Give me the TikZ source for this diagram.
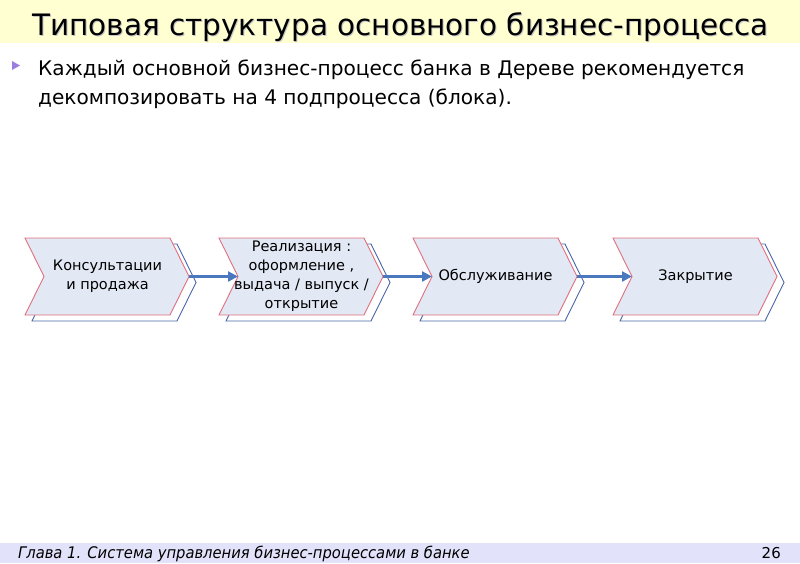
\documentclass[tikz,border=0pt]{standalone}
\usepackage{fontspec}
\setmainfont{DejaVu Sans}
\newfontfamily\footfont[FakeStretch=0.92]{DejaVu Sans}
\usetikzlibrary{arrows.meta}

\definecolor{titlebg}{HTML}{FFFFD2}
\definecolor{footbg}{HTML}{E2E2FA}
\definecolor{bulletc}{HTML}{9A7FE0}
\definecolor{blockfill}{HTML}{E2E8F4}
\definecolor{blockred}{HTML}{E0707E}
\definecolor{blockblue}{HTML}{4A66A8}
\definecolor{flowc}{HTML}{4A78BE}

\tikzset{
    blockfront/.style={draw=blockred, fill=blockfill, line width=0.9pt},
    blockback/.style={draw=blockblue, fill=white, line width=0.9pt},
    blocktext/.style={align=center, font=\fontsize{14.5}{19}\selectfont, inner sep=0pt},
    flow/.style={draw=flowc, line width=2.3pt, -{Triangle[length=10pt, width=10pt]}},
}

\begin{document}
\begin{tikzpicture}[x=1pt, y=-1pt]
    \useasboundingbox (0,0) rectangle (800,563);

    % Bands
    \fill[titlebg] (0,0) rectangle (800,43);
    \fill[footbg] (0,543) rectangle (800,563);

    % Title
    \node[anchor=base, text=black!22, font=\fontsize{29.5}{32}\selectfont] (title-shadow) at (401.5,36.5) {Типовая структура основного бизнес-процесса};
    \node[anchor=base, font=\fontsize{29.5}{32}\selectfont] (title) at (400.5,35) {Типовая структура основного бизнес-процесса};

    % Bullet
    \fill[bulletc] (12,61) -- (20,65.5) -- (12,70) -- cycle;
    \node[anchor=base west, inner sep=0pt, font=\fontsize{20.1}{29}\selectfont] (line1) at (38,75) {Каждый основной бизнес-процесс банка в Дереве рекомендуется};
    \node[anchor=base west, inner sep=0pt, font=\fontsize{20.1}{29}\selectfont] (line2) at (38,104) {декомпозировать на 4 подпроцесса (блока).};

    % Blocks
    \foreach \x/\name in {25/kons, 219/real, 413/obsl, 613/zakr} {
        \begin{scope}[shift={(\x,0)}]
            \draw[blockback] (7,244) -- (152,244) -- (171,282.5) -- (152,321) -- (7,321) -- (26,282.5) -- cycle;
            \draw[blockfront] (0,238) -- (145,238) -- (164,276.5) -- (145,315) -- (0,315) -- (19,276.5) -- cycle;
            \coordinate (\name-tip) at (164,276.5);
            \coordinate (\name-notch) at (19,276.5);
            \coordinate (\name-c) at (82.5,276.5);
        \end{scope}
    }

    % Labels
    \node[blocktext] (kons-text) at (kons-c) {Консультации\\и продажа};
    \node[blocktext] (real-text) at (real-c) {Реализация :\\оформление ,\\выдача / выпуск /\\открытие};
    \node[blocktext] (obsl-text) at (obsl-c) {Обслуживание};
    \node[blocktext] (zakr-text) at (zakr-c) {Закрытие};

    % Arrows
    \draw[flow] (kons-tip) -- (real-notch);
    \draw[flow] (real-tip) -- (obsl-notch);
    \draw[flow] (obsl-tip) -- (zakr-notch);

    % Footer
    \node[anchor=base west, inner sep=0pt, font=\footfont\itshape\fontsize{16}{18}\selectfont] (footer) at (18,558.5) {Глава 1. Система управления бизнес-процессами в банке};
    \node[anchor=base east, inner sep=0pt, font=\fontsize{15}{18}\selectfont] (page) at (781,558) {26};
\end{tikzpicture}
\end{document}
